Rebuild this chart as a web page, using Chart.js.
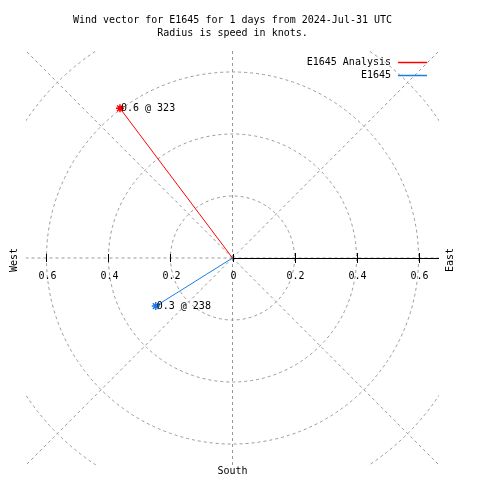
<!DOCTYPE html>
<html>
<head>
<meta charset="utf-8">
<script src="https://cdn.jsdelivr.net/npm/chart.js@4/dist/chart.umd.min.js"></script>
<style>
  html, body { margin: 0; padding: 0; background: #fff; }
  #wrap { width: 480px; height: 480px; }
</style>
</head>
<body>
<div id="wrap"><canvas id="windChart" width="480" height="480"></canvas></div>
<script>
// wind vectors - compass bearing (deg, 0 = north, clockwise) and speed (knots)
const seriesNames = ['E1645 Analysis', 'E1645'];
const seriesColors = ['#ff0000', '#1a7ce6'];
const speeds = [0.603, 0.292];
const directions = [323, 238];
const pointLabels = ['0.6 @ 323', '0.3 @ 238'];

// polar grid
const rings = [0.2, 0.4, 0.6, 0.8];
const spokeAngles = [0, 45, 90, 135, 180, 225, 270, 315];
const leftTicks = [0.6, 0.4, 0.2, 0];
const leftTickLabels = ['0.6', '0.4', '0.2', '0'];
const rightTicks = [0.2, 0.4, 0.6];
const rightTickLabels = ['0.2', '0.4', '0.6'];
const axisMax = 0.666;

const titleLines = ['Wind vector for E1645 for 1 days from 2024-Jul-31 UTC', 'Radius is speed in knots.'];

const FONT = '10px "DejaVu Sans Mono", "Liberation Mono", monospace';

function toXY(speed, dir) {
  const rad = dir * Math.PI / 180;
  return { x: speed * Math.sin(rad), y: speed * Math.cos(rad) };
}

const datasets = seriesNames.map((name, i) => ({
  label: name,
  data: [{ x: 0, y: 0 }, toXY(speeds[i], directions[i])],
  showLine: true,
  borderColor: seriesColors[i],
  backgroundColor: seriesColors[i],
  borderWidth: 1,
  pointStyle: 'star',
  pointRadius: [0, 4],
  pointBorderWidth: 1.5,
  pointBorderColor: seriesColors[i]
}));

// polar grid + axis + labels, drawn through the chart's scales
const polarGrid = {
  id: 'polarGrid',
  beforeDatasetsDraw(chart) {
    const { ctx, chartArea: a, scales: { x, y } } = chart;
    const cx = x.getPixelForValue(0), cy = y.getPixelForValue(0);
    const pxPerUnit = x.getPixelForValue(1) - cx;

    ctx.save();
    ctx.beginPath();
    ctx.rect(a.left, a.top, a.right - a.left, a.bottom - a.top);
    ctx.clip();
    ctx.strokeStyle = '#999999';
    ctx.lineWidth = 1;
    ctx.setLineDash([3, 3]);
    rings.forEach(r => {
      ctx.beginPath();
      ctx.arc(cx, cy, r * pxPerUnit, 0, Math.PI * 2);
      ctx.stroke();
    });
    spokeAngles.forEach(ang => {
      const p = toXY(axisMax * 2, ang);
      ctx.beginPath();
      ctx.moveTo(cx, cy);
      ctx.lineTo(x.getPixelForValue(p.x), y.getPixelForValue(p.y));
      ctx.stroke();
    });
    ctx.restore();

    // solid radial axis to the east
    ctx.save();
    ctx.strokeStyle = '#000';
    ctx.lineWidth = 1;
    ctx.beginPath();
    ctx.moveTo(cx, cy + 0.5);
    ctx.lineTo(a.right, cy + 0.5);
    ctx.stroke();
    rightTicks.forEach(v => {
      const px = Math.round(x.getPixelForValue(v)) + 0.5;
      ctx.beginPath();
      ctx.moveTo(px, cy - 5);
      ctx.lineTo(px, cy + 5);
      ctx.stroke();
    });
    leftTicks.forEach(v => {
      const px = Math.round(x.getPixelForValue(-v)) + 0.5;
      ctx.beginPath();
      ctx.moveTo(px, cy - 4);
      ctx.lineTo(px, cy + 4);
      ctx.stroke();
    });

    ctx.fillStyle = '#000';
    ctx.font = FONT;
    ctx.textAlign = 'center';
    ctx.textBaseline = 'middle';
    leftTicks.forEach((v, i) => {
      ctx.fillText(leftTickLabels[i], x.getPixelForValue(-v) + 1, cy + 18);
    });
    rightTicks.forEach((v, i) => {
      ctx.fillText(rightTickLabels[i], x.getPixelForValue(v) + 1, cy + 18);
    });
    ctx.restore();
  },
  afterDraw(chart) {
    const { ctx, chartArea: a, scales: { x, y } } = chart;
    const cx = x.getPixelForValue(0), cy = y.getPixelForValue(0);
    ctx.save();
    ctx.fillStyle = '#000';
    ctx.font = FONT;
    ctx.textBaseline = 'middle';

    // title
    ctx.textAlign = 'center';
    titleLines.forEach((t, i) => ctx.fillText(t, cx, 20 + i * 13));

    // point labels
    ctx.textAlign = 'left';
    datasets.forEach((ds, i) => {
      const p = ds.data[1];
      ctx.fillText(pointLabels[i], x.getPixelForValue(p.x) + 1, y.getPixelForValue(p.y));
    });

    // compass labels
    ctx.textAlign = 'center';
    ctx.fillText('South', cx, a.bottom + 6);
    [['West', a.left - 12], ['East', a.right + 11]].forEach(([t, px]) => {
      ctx.save();
      ctx.translate(px, cy + 2);
      ctx.rotate(-Math.PI / 2);
      ctx.fillText(t, 0, 0);
      ctx.restore();
    });

    // legend
    seriesNames.forEach((name, i) => {
      const ly = a.top + 11 + i * 13;
      ctx.textAlign = 'right';
      ctx.fillText(name, a.right - 48, ly);
      ctx.strokeStyle = seriesColors[i];
      ctx.lineWidth = 1.5;
      ctx.beginPath();
      ctx.moveTo(a.right - 41, ly + 0.5);
      ctx.lineTo(a.right - 12, ly + 0.5);
      ctx.stroke();
    });
    ctx.restore();
  }
};

new Chart(document.getElementById('windChart').getContext('2d'), {
  type: 'scatter',
  data: { datasets },
  options: {
    responsive: false,
    animation: false,
    layout: { padding: { left: 26, right: 41, top: 51, bottom: 15 } },
    scales: {
      x: { type: 'linear', min: -axisMax, max: axisMax, display: false },
      y: { type: 'linear', min: -axisMax, max: axisMax, display: false }
    },
    plugins: {
      legend: { display: false },
      title: { display: false },
      tooltip: { enabled: false }
    }
  },
  plugins: [polarGrid]
});
</script>
</body>
</html>
